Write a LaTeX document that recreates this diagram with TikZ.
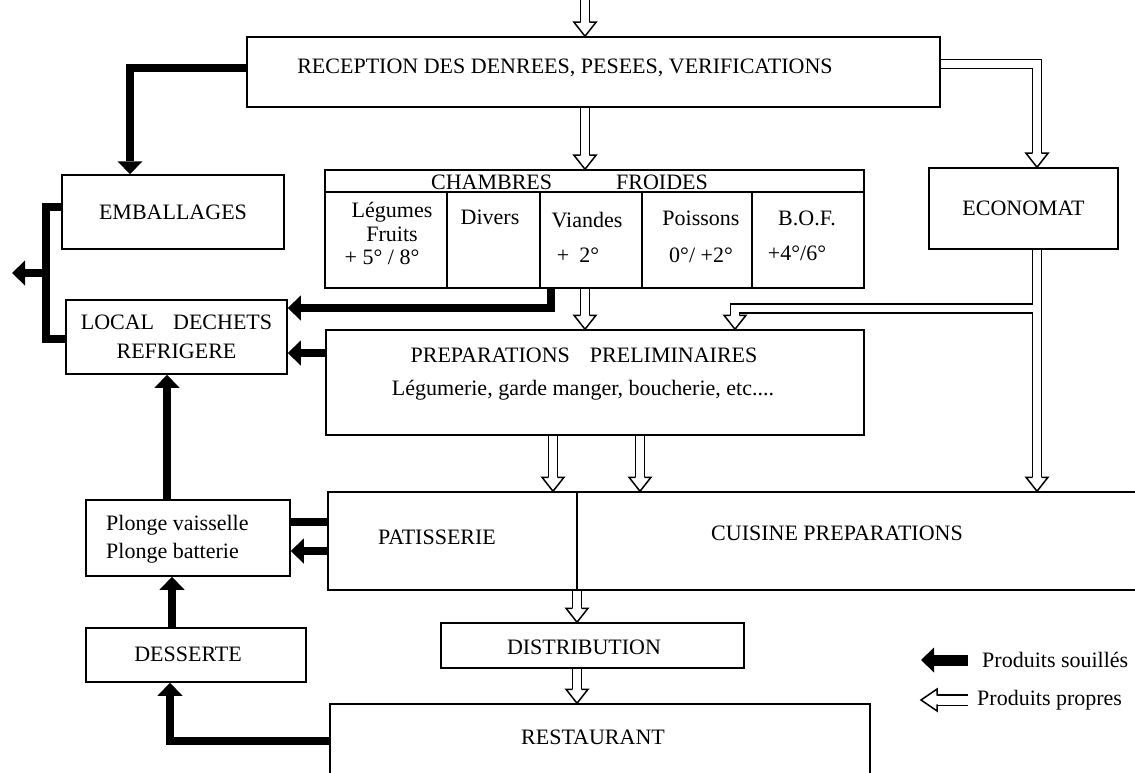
\documentclass[tikz,border=0pt]{standalone}
\usepackage{fontspec}
\setmainfont{Liberation Serif}
\usetikzlibrary{arrows.meta,positioning}
\tikzset{bx/.style={draw,line width=1.5pt,inner sep=0pt,align=center,font=\fontsize{22}{29}\selectfont},
 tx/.style={inner sep=0pt,align=center,font=\fontsize{22}{28}\selectfont},
 sa/.style={line width=8pt,-{Triangle[length=13pt,width=25pt,line width=0pt]}},
 sl/.style={line width=8pt},
 pr/.style={double,double distance=7.3pt,line width=1.5pt,shorten >=14pt,shorten <=0.5pt},
 hd/.pic={\fill[white](-11,-14)--(0,0)--(11,-14)--cycle;
  \draw[line width=1.5pt](-4.4,-14)--(-11,-14)--(0,0)--(11,-14)--(4.4,-14);}}
\begin{document}
\begin{tikzpicture}[x=1pt,y=-1pt]
\useasboundingbox[fill=white](0,0) rectangle (1135,773);
% boites
\node[bx,minimum width=693pt,minimum height=70pt](r) at (593.5,72){};
\node[tx] at (565,68){RECEPTION DES DENREES, PESEES, VERIFICATIONS};
\node[bx,minimum width=222pt,minimum height=74pt](e) at (173,212){EMBALLAGES};
\node[bx,minimum width=221pt,minimum height=74pt](l) at (176.5,337){LOCAL\hspace{19pt}DECHETS\\REFRIGERE};
\node[bx,minimum width=539pt,minimum height=118pt](c) at (594.5,229){};
\node[bx,minimum width=189pt,minimum height=81pt](m) at (1023.5,208.5){ECONOMAT};
\node[bx,minimum width=538pt,minimum height=105pt](p) at (595,382.5){};
\node[tx] at (584,355){PREPARATIONS\hspace{20pt}PRELIMINAIRES};
\node[tx] at (583,390){Légumerie, garde manger, boucherie, etc....};
\node[bx,minimum width=822pt,minimum height=98pt](k) at (739,541){};
\draw[line width=1.5pt](k.north -| 577,0) -- (k.south -| 577,0);
\node[tx] at (437,537){PATISSERIE};\node[tx] at (837,533){CUISINE PREPARATIONS};
\node[bx,minimum width=204pt,minimum height=76pt](v) at (188,538){};
\node[tx,align=left,anchor=west] at (106,539){Plonge vaisselle\\Plonge batterie};
\node[bx,minimum width=220pt,minimum height=54pt](s) at (196,655){};\node[tx] at (188,654){DESSERTE};
\node[bx,minimum width=303pt,minimum height=45pt](d) at (592.5,645.5){};\node[tx] at (584,647){DISTRIBUTION};
\node[bx,minimum width=540pt,minimum height=96pt](t) at (600,752){};\node[tx] at (593,737){RESTAURANT};
% chambres froides
\draw[line width=1.5pt](c.west |- 0,192) -- (c.east |- 0,192);
\foreach \u in {447,540,642,752} \draw[line width=1.5pt](\u,192) -- (c.south -| \u,0);
\node[tx] at (569.5,182){CHAMBRES\hspace{64pt}FROIDES};
\node[tx,font=\fontsize{22}{23.5}\selectfont] at (392,222){Légumes\\Fruits};
\node[tx] at (382,257){+ 5° / 8°};
\node[tx] at (490,217){Divers};
\node[tx] at (587,220){Viandes};\node[tx] at (578,255){+\hspace{10pt}2°};
\node[tx] at (701,218){Poissons};\node[tx] at (701,255){0°/ +2°};
\node[tx] at (807,218){B.O.F.};\node[tx] at (797,253){+4°/6°};
% produits souilles
\coordinate (j) at (46,273);\coordinate (o) at (12,273);
\draw[sa](r.west |- 0,68) -| (e.north -| 130,0);
\draw[sl](e.west |- 0,207) -| (46,339) -- (l.west |- 0,339);\draw[sa](j) -- (o);
\draw[sa](c.south -| 551,0) |- (l.east |- 0,308);
\draw[sa](p.west |- 0,353) -- (l.east |- 0,353);
\draw[sa](v.north -| 167,0) -- (l.south -| 167,0);
\draw[sl](k.west |- 0,522) -- (v.east |- 0,522);\draw[sa](k.west |- 0,551) -- (v.east |- 0,551);
\draw[sa](s.north -| 172,0) -- (v.south -| 172,0);
\draw[sa](t.west |- 0,741) -| (s.south -| 170,0);
% produits propres
\coordinate (t0) at (585,-5);\coordinate (m1) at (1037,249.5);\coordinate (q) at (735,316);
\draw[pr](t0) -- (r.north -| t0);\pic at (r.north -| t0){hd};
\draw[pr](r.south -| t0) -- (c.north -| t0);\pic at (c.north -| t0){hd};
\draw[pr](r.east |- 0,64) -| (m.north -| 1037,0);\pic at (m.north -| 1037,0){hd};
\draw[pr](c.south -| t0) -- (p.north -| t0);\pic at (p.north -| t0){hd};
\draw[pr](m1) |- (735,308.5) -- (q) (m1) -- (k.north -| m1);\pic at (p.north -| q){hd};\pic at (k.north -| m1){hd};
\draw[pr](p.south -| 553,0) -- (k.north -| 553,0);\pic at (k.north -| 553,0){hd};
\draw[pr](p.south -| 640,0) -- (k.north -| 640,0);\pic at (k.north -| 640,0){hd};
\draw[pr](k.south -| 577,0) -- (d.north -| 577,0);\pic at (d.north -| 577,0){hd};
\draw[pr](d.south -| 577,0) -- (t.north -| 577,0);\pic at (t.north -| 577,0){hd};
% legende
\coordinate (g1) at (968,660);\coordinate (g2) at (921,660);\coordinate (g3) at (968,700);\coordinate (g4) at (921,700);
\draw[sa,line width=11pt](g1) -- (g2);\draw[pr,double distance=9pt](g3) -- (g4);\pic[rotate=-90,yscale=1.15] at (g4){hd};
\node[tx,anchor=west] at (982,660){Produits souillés};
\node[tx,anchor=west] at (977,700){Produits propres};
\end{tikzpicture}
\end{document}
